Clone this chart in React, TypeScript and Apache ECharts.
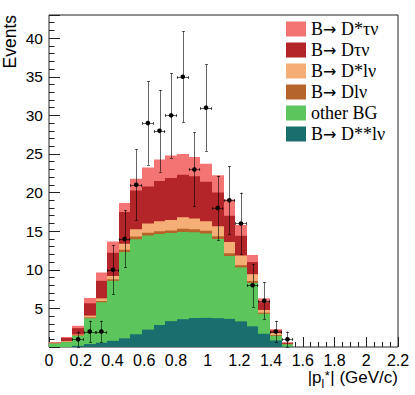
import React, { useEffect, useRef } from "react";
import * as echarts from "echarts";

// Histogram binning
const nBins = 30;
const xMin = 0;
const xMax = 2.2;

// Stacked MC contributions per bin (bins 0..20, the rest empty), bottom to top
const dssLnu = [0, 0, 0.15, 0.38, 0.55, 0.8, 1.12, 1.65, 2.25, 2.85, 3.35, 3.6, 3.75, 3.77, 3.73, 3.64, 3.32, 2.68, 1.71, 0.85, 0.05];
const otherBG = [0.45, 0.64, 1.3, 3.35, 5.25, 7.77, 11.18, 12.3, 12.2, 11.8, 11.4, 11.3, 11.1, 10.93, 10.27, 8.16, 6.98, 5.62, 2.59, 0.6, 0.3];
const dLnu = [0.03, 0.03, 0.05, 0.1, 0.15, 0.2, 0.3, 0.35, 0.35, 0.35, 0.35, 0.4, 0.4, 0.35, 0.35, 0.35, 0.3, 0.25, 0.15, 0.1, 0.02];
const dstarLnu = [0.07, 0.1, 0.12, 0.24, 0.35, 0.43, 0.78, 0.95, 1.2, 1.3, 1.35, 1.5, 1.4, 1.25, 1.3, 1.45, 1.25, 0.88, 0.35, 0.3, 0.03];
const dTauNu = [0, 0.41, 0.82, 1.59, 2.27, 3.0, 4.12, 5.03, 4.8, 5.2, 5.43, 5.5, 5.45, 5.1, 4.35, 3.4, 2.55, 1.57, 1.0, 0.3, 0.15];
const dstarTauNu = [0.1, 0.11, 0.31, 0.69, 1.08, 1.45, 1.15, 1.52, 2.45, 2.8, 2.92, 2.7, 2.5, 2.35, 2.25, 2.1, 1.4, 0.9, 0.5, 0.15, 0.05];

// Data points
const dataBin = [2, 3, 4, 5, 6, 7, 8, 9, 10, 11, 12, 13, 14, 15, 16, 17, 18, 19, 20];
const dataCounts = [1, 2, 2, 10, 14, 21, 29, 28, 30, 35, 23, 31, 18, 19, 16, 8, 6, 2, 1];
const dataErr = [1, 1.4, 1.4, 3.2, 3.7, 4.6, 5.4, 5.3, 5.5, 5.9, 4.8, 5.6, 4.2, 4.4, 4, 2.8, 2.4, 1.4, 1];

const legendNames = ["B\u2192 D*\u03c4\u03bd", "B\u2192 D\u03c4\u03bd", "B\u2192 D*l\u03bd", "B\u2192 Dl\u03bd", "other BG", "B\u2192 D**l\u03bd"];

const layers = [
  { name: legendNames[5], values: dssLnu, color: "#196E6E" },
  { name: legendNames[4], values: otherBG, color: "#5CC55C" },
  { name: legendNames[3], values: dLnu, color: "#B6652A" },
  { name: legendNames[2], values: dstarLnu, color: "#F5AE75" },
  { name: legendNames[1], values: dTauNu, color: "#B32528" },
  { name: legendNames[0], values: dstarTauNu, color: "#F47474" },
];

function measure(text: string, font: string): number {
  const c = document.createElement("canvas").getContext("2d");
  if (!c) return text.length * 8;
  c.font = font;
  return c.measureText(text).width;
}

export default function App() {
  const ref = useRef<HTMLDivElement>(null);
  useEffect(() => {
    const chart = echarts.init(ref.current!, null, { renderer: "svg" });
    const bw = (xMax - xMin) / nBins;

    // cumulative tops
    const cum: number[][] = [];
    const running = new Array(nBins).fill(0);
    layers.forEach((l) => {
      for (let i = 0; i < nBins; i++) running[i] += l.values[i] || 0;
      cum.push(running.slice());
    });

    const stackSeries: any[] = [];
    for (let k = layers.length - 1; k >= 0; k--) {
      const l = layers[k];
      const data: number[][] = [];
      for (let i = 0; i < nBins; i++) {
        const top = cum[k][i];
        if (top > 0) data.push([xMin + i * bw, xMin + (i + 1) * bw, 0, top]);
      }
      const color = l.color;
      stackSeries.push({
        type: "custom",
        name: l.name,
        itemStyle: { color },
        encode: { x: [0, 1], y: [2, 3] },
        data,
        renderItem: (params: any, api: any) => {
          const a = api.coord([api.value(0), api.value(3)]);
          const b = api.coord([api.value(1), api.value(2)]);
          const x0 = Math.round(a[0]);
          const x1 = Math.round(b[0]);
          return {
            type: "rect",
            shape: { x: x0, y: a[1], width: x1 - x0, height: b[1] - a[1] },
            style: { fill: color },
          };
        },
      });
    }

    const errData = dataBin.map((b, i) => [xMin + (b + 0.5) * bw, dataCounts[i], dataErr[i], bw / 2]);
    const lineStyle = { stroke: "rgba(0,0,0,0.6)", lineWidth: 1 };
    const errSeries = {
      type: "custom",
      name: "data",
      encode: { x: 0, y: 1 },
      data: errData,
      z: 10,
      renderItem: (params: any, api: any) => {
        const x = api.value(0);
        const y = api.value(1);
        const e = api.value(2);
        const hw = api.value(3);
        const c = api.coord([x, y]);
        const t = api.coord([x, y + e]);
        const bt = api.coord([x, Math.max(0, y - e)]);
        const l = api.coord([x - hw, y]);
        const r = api.coord([x + hw, y]);
        const cx = Math.round(c[0]) + 0.5;
        const cy = Math.round(c[1]) + 0.5;
        return {
          type: "group",
          children: [
            { type: "line", shape: { x1: cx, y1: t[1], x2: cx, y2: bt[1] }, style: lineStyle },
            { type: "line", shape: { x1: cx - 1.5, y1: Math.round(t[1]) + 0.5, x2: cx + 1.5, y2: Math.round(t[1]) + 0.5 }, style: lineStyle },
            { type: "line", shape: { x1: cx - 1.5, y1: Math.round(bt[1]) + 0.5, x2: cx + 1.5, y2: Math.round(bt[1]) + 0.5 }, style: lineStyle },
            { type: "line", shape: { x1: l[0], y1: cy, x2: r[0], y2: cy }, style: lineStyle },
            { type: "line", shape: { x1: Math.round(l[0]) + 0.5, y1: cy - 1.5, x2: Math.round(l[0]) + 0.5, y2: cy + 1.5 }, style: lineStyle },
            { type: "line", shape: { x1: Math.round(r[0]) - 0.5, y1: cy - 1.5, x2: Math.round(r[0]) - 0.5, y2: cy + 1.5 }, style: lineStyle },
            { type: "circle", shape: { cx: c[0], cy: c[1], r: 2.3 }, style: { fill: "#000" } },
          ],
        };
      },
    };

    const sans = "Liberation Sans";
    const serif = "Liberation Serif";

    // x-axis title pieces: "|p" + sub "l" + sup "*" + "| (GeV/c)", right aligned to the frame
    const titleRight = 398;
    const mainFont = '17px "Liberation Sans"';
    const smallFont = '12px "Liberation Sans"';
    const supFont = '13px "Liberation Sans"';
    const tail = "| (GeV/c)";
    const tailW = measure(tail, mainFont);
    const subW = measure("l", smallFont) + 0.5;
    const supW = measure("*", supFont) + 0.5;
    const supX = titleRight - tailW - supW;
    const subX = supX - subW;

    const option: any = {
      animation: false,
      grid: { left: 49, right: 17, top: 15, bottom: 48, show: true, borderColor: "#222", borderWidth: 1, backgroundColor: "transparent" },
      xAxis: [
        {
          type: "value", min: xMin, max: xMax, interval: 0.2,
          axisLine: { show: false },
          axisTick: { show: true, inside: true, length: 10, lineStyle: { color: "#222" } },
          axisLabel: {
            show: true, margin: 5, color: "#000", fontFamily: sans, fontSize: 16,
            formatter: (v: number) => String(+v.toFixed(1)),
          },
          splitLine: { show: false },
        },
        {
          type: "value", min: xMin, max: xMax, interval: 0.05, position: "bottom",
          axisLine: { show: false },
          axisTick: { show: true, inside: true, length: 5, lineStyle: { color: "#222" } },
          axisLabel: { show: false },
          splitLine: { show: false },
        },
      ],
      yAxis: [
        {
          type: "value", min: 0, max: 43, interval: 5,
          axisLine: { show: false },
          axisTick: { show: true, inside: true, length: 11, lineStyle: { color: "#222" } },
          axisLabel: {
            show: true, margin: 6, color: "#000", fontFamily: sans, fontSize: 15.5,
            formatter: (v: number) => (v > 0 && Math.abs(v % 5) < 1e-6 ? String(v) : ""),
          },
          splitLine: { show: false },
        },
        {
          type: "value", min: 0, max: 43, interval: 1, position: "left",
          axisLine: { show: false },
          axisTick: { show: true, inside: true, length: 5.5, lineStyle: { color: "#222" } },
          axisLabel: { show: false },
          splitLine: { show: false },
        },
      ],
      legend: {
        orient: "vertical", left: 286, top: 20, padding: 0, itemGap: 3,
        itemWidth: 20, itemHeight: 15, icon: "rect",
        data: legendNames,
        formatter: (name: string) => {
          const parts = name.split("\u2192");
          if (parts.length < 2) return "{t|" + name + "}";
          return "{t|" + parts[0] + "}{r|\u2192}{t|" + parts[1] + "}";
        },
        textStyle: {
          fontFamily: serif, fontSize: 18, color: "#000",
          rich: {
            t: { fontFamily: serif, fontSize: 18, color: "#000" },
            r: { fontFamily: "DejaVu Sans", fontSize: 16, color: "#000" },
          },
        },
        selectedMode: false,
      },
      graphic: [
        {
          type: "text", x: 9.8, y: 15, rotation: Math.PI / 2,
          style: { text: "Events", font: '17.5px "Liberation Sans"', fill: "#000", align: "right", verticalAlign: "middle" },
        },
        {
          type: "text", x: titleRight, y: 377.5,
          style: { text: tail, font: mainFont, fill: "#000", align: "right", verticalAlign: "middle" },
        },
        {
          type: "text", x: subX, y: 377.5,
          style: { text: "|p", font: mainFont, fill: "#000", align: "right", verticalAlign: "middle" },
        },
        {
          type: "text", x: subX, y: 383.5,
          style: { text: "l", font: smallFont, fill: "#000", align: "left", verticalAlign: "middle" },
        },
        {
          type: "text", x: supX, y: 375,
          style: { text: "*", font: supFont, fill: "#000", align: "left", verticalAlign: "middle" },
        },
      ],
      series: [...stackSeries, errSeries],
    };
    chart.setOption(option);
    return () => chart.dispose();
  }, []);
  return <div ref={ref} style={{ position: "absolute", left: 0, top: 0, width: 415, height: 395 }} />;
}
